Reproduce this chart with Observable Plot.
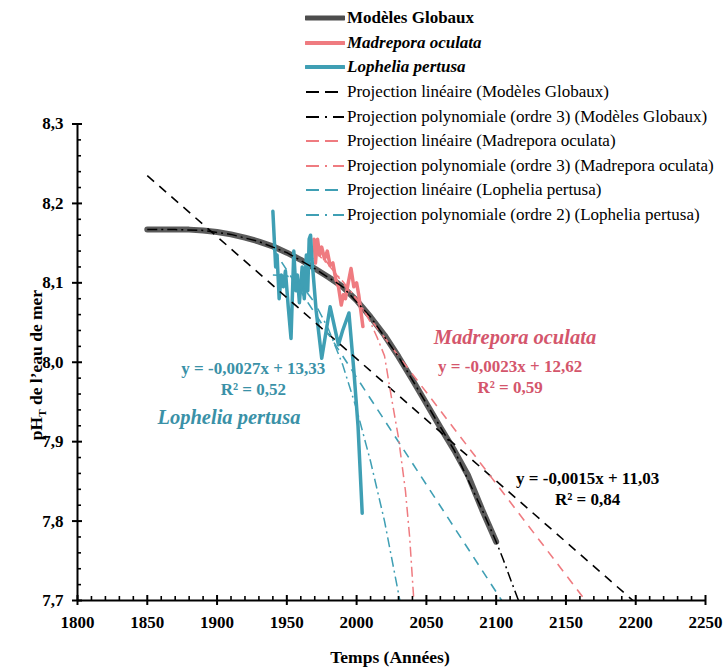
<!DOCTYPE html>
<html><head><meta charset="utf-8">
<script src="https://cdn.jsdelivr.net/npm/d3@7"></script>
<script src="https://cdn.jsdelivr.net/npm/@observablehq/plot@0.6"></script>
<style>
html,body{margin:0;background:#fff;overflow:hidden;}
#wrap{position:relative;width:723px;height:669px;overflow:hidden;font-family:"Liberation Serif","Times New Roman",serif;}
#legend{position:absolute;left:305px;top:6px;}
.row{display:flex;align-items:center;height:24.6px;font-size:17px;color:#000;white-space:nowrap;}
.row svg{width:40px;height:12px;margin-right:2px;flex:none;}
</style></head>
<body><div id="wrap"><div id="legend"></div></div>
<script>
// ---- data ----
const modelYears = [1850,1860,1870,1880,1890,1900,1910,1920,1930,1940,1950,1960,1970,1980,1990,2000,2010,2020,2030,2040,2050,2060,2070,2080,2090,2100];
const modelPH    = [8.167,8.167,8.167,8.167,8.166,8.164,8.161,8.157,8.152,8.146,8.138,8.129,8.118,8.107,8.095,8.078,8.057,8.034,8.007,7.978,7.948,7.918,7.889,7.857,7.814,7.774];

const modelPolyYears = [1850,1870,1890,1910,1930,1950,1970,1990,2010,2030,2050,2070,2090,2100,2105,2110,2116];
const modelPolyPH    = [8.167,8.167,8.166,8.161,8.152,8.138,8.118,8.095,8.057,8.007,7.948,7.889,7.814,7.774,7.752,7.728,7.70];

const madreporaYears = [1969.5,1970.5,1972,1973.5,1975,1977,1979,1981,1983,1985,1987,1989,1990.5,1992,1994,1996,1998,2000,2001.5,2003,2004.5];
const madreporaPH    = [8.155,8.125,8.155,8.135,8.145,8.13,8.14,8.122,8.125,8.105,8.095,8.072,8.085,8.08,8.10,8.118,8.095,8.10,8.085,8.065,8.045];

const lopheliaYears = [1940,1942,1943,1944.5,1946,1947.5,1949,1951,1953,1955,1956.5,1957.5,1959,1961,1962.5,1964,1965,1966,1967,1968,1971,1975,1981,1987,1990,1994.5,1998,2001,2004];
const lopheliaPH    = [8.19,8.12,8.135,8.08,8.11,8.095,8.115,8.07,8.03,8.14,8.09,8.11,8.075,8.12,8.08,8.135,8.09,8.155,8.16,8.13,8.065,8.005,8.07,8.022,8.04,8.062,7.99,7.92,7.81];

const modelLinYears = [1850, 2198];
const modelLinPH    = [8.235, 7.70];
const madreporaLinYears = [1970, 2164];
const madreporaLinPH    = [8.146, 7.70];
const lopheliaLinYears  = [1940, 2104];
const lopheliaLinPH     = [8.143, 7.70];

const madreporaPolyYears = [1970,1980,1990,2000,2005,2010,2015,2020,2025,2030,2035,2038,2041];
const madreporaPolyPH    = [8.14,8.122,8.102,8.08,8.066,8.05,8.03,8.008,7.955,7.905,7.838,7.78,7.70];
const lopheliaPolyYears  = [1940,1950,1960,1970,1980,1990,2000,2010,2020,2031];
const lopheliaPolyPH     = [8.11,8.109,8.098,8.075,8.041,7.997,7.941,7.875,7.80,7.70];

const xTicks = [1800,1850,1900,1950,2000,2050,2100,2150,2200,2250];
const yTicks = [7.7,7.8,7.9,8.0,8.1,8.2,8.3];

const legendLabels = ["Modèles Globaux","Madrepora oculata","Lophelia pertusa",
  "Projection linéaire (Modèles Globaux)","Projection polynomiale (ordre 3) (Modèles Globaux)",
  "Projection linéaire (Madrepora oculata)","Projection polynomiale (ordre 3) (Madrepora oculata)",
  "Projection linéaire (Lophelia pertusa)","Projection polynomiale (ordre 2) (Lophelia pertusa)"];

// ---- styles ----
const GRAY = "#4d4d4d", RED = "#ef7b80", TEAL = "#3f9fb4", RED_TXT = "#d4566c", TEAL_TXT = "#3a91a7";
const DASH = "9,7", DASHDOT = "10,4,2,4";

const rows = (xs, ys) => xs.map((x, i) => ({x, y: ys[i]}));
const xMinor = d3.range(1800, 2251, 10).filter(d => d % 50 !== 0);
const yMinor = d3.range(7.7, 8.3001, 0.02).map(d => +d.toFixed(2)).filter(d => Math.abs(d * 10 - Math.round(d * 10)) > 1e-6);

const lineOpts = (stroke, w, dash) => ({x: "x", y: "y", stroke, strokeWidth: w, strokeDasharray: dash, clip: true, strokeLinejoin: "round", strokeLinecap: dash ? "butt" : "round"});

const chart = Plot.plot({
  width: 723, height: 669,
  marginLeft: 77, marginRight: 18, marginTop: 123.5, marginBottom: 69,
  x: {domain: [1800, 2250]},
  y: {domain: [7.7, 8.3]},
  style: {fontFamily: "'Liberation Serif','Times New Roman',serif", fontSize: "17px", fontWeight: "bold", color: "#000", background: "#fff", overflow: "visible"},
  marks: [
    Plot.line(rows(modelYears, modelPH), {...lineOpts(GRAY, 6), strokeOpacity: 0.92}),
    Plot.line(rows(madreporaYears, madreporaPH), lineOpts(RED, 3.5)),
    Plot.line(rows(lopheliaYears, lopheliaPH), lineOpts(TEAL, 3.5)),
    Plot.line(rows(modelLinYears, modelLinPH), lineOpts("#000", 1.6, DASH)),
    Plot.line(rows(madreporaLinYears, madreporaLinPH), lineOpts(RED, 1.6, DASH)),
    Plot.line(rows(lopheliaLinYears, lopheliaLinPH), lineOpts(TEAL, 1.6, DASH)),
    Plot.line(rows(modelPolyYears, modelPolyPH), lineOpts("#000", 1.5, DASHDOT)),
    Plot.line(rows(madreporaPolyYears, madreporaPolyPH), lineOpts(RED, 1.5, DASHDOT)),
    Plot.line(rows(lopheliaPolyYears, lopheliaPolyPH), lineOpts(TEAL, 1.5, DASHDOT)),
    // axes
    Plot.ruleX([1800], {stroke: "#000", strokeWidth: 2}),
    Plot.ruleY([7.7], {stroke: "#000", strokeWidth: 2}),
    Plot.axisX(xTicks, {tickSize: 5, tickPadding: 10, tickFormat: d => String(d), label: null, strokeWidth: 2, fontSize: 17}),
    Plot.axisX(xTicks, {tickSize: -5, tickFormat: () => "", label: null, strokeWidth: 2}),
    Plot.axisX(xMinor, {tickSize: -4, tickFormat: () => "", label: null, strokeWidth: 1.6}),
    Plot.axisY(yTicks, {tickSize: 5, tickPadding: 9, tickFormat: d => d.toFixed(1).replace(".", ","), label: null, strokeWidth: 2, fontSize: 17}),
    Plot.axisY(yTicks, {tickSize: -5, tickFormat: () => "", label: null, strokeWidth: 2}),
    Plot.axisY(yMinor, {tickSize: -4, tickFormat: () => "", label: null, strokeWidth: 1.6}),
    // annotations
    Plot.text(["y = -0,0027x + 13,33"], {x: 1926, y: 7.992, text: d => d, fill: TEAL_TXT, fontSize: 17}),
    Plot.text(["R² = 0,52"], {x: 1926, y: 7.966, text: d => d, fill: TEAL_TXT, fontSize: 17}),
    Plot.text(["Lophelia pertusa"], {x: 1908.5, y: 7.93, text: d => d, fill: TEAL_TXT, fontSize: 20.5, fontStyle: "italic"}),
    Plot.text(["Madrepora oculata"], {x: 2113.5, y: 8.031, text: d => d, fill: RED_TXT, fontSize: 20.5, fontStyle: "italic"}),
    Plot.text(["y = -0,0023x + 12,62"], {x: 2110, y: 7.994, text: d => d, fill: RED_TXT, fontSize: 17}),
    Plot.text(["R² = 0,59"], {x: 2110, y: 7.968, text: d => d, fill: RED_TXT, fontSize: 17}),
    Plot.text(["y = -0,0015x + 11,03"], {x: 2165.5, y: 7.853, text: d => d, fill: "#000", fontSize: 17}),
    Plot.text(["R² = 0,84"], {x: 2165.5, y: 7.827, text: d => d, fill: "#000", fontSize: 17})
  ]
});

const wrap = document.getElementById("wrap");
wrap.insertBefore(chart, wrap.firstChild);
const svg = d3.select(chart.tagName.toLowerCase() === "svg" ? chart : chart.querySelector("svg"));

// y title with subscript
const yt = svg.append("text")
  .attr("transform", "translate(42,365) rotate(-90)")
  .attr("text-anchor", "middle").attr("font-size", 17.5).attr("font-weight", "bold").attr("fill", "#000");
yt.append("tspan").text("pH");
yt.append("tspan").attr("dy", 4).attr("font-size", 11).text("T");
yt.append("tspan").attr("dy", -4).text(" de l’eau de mer");

// x title
svg.append("text").attr("x", 390).attr("y", 663).attr("text-anchor", "middle")
  .attr("font-size", 17.5).attr("font-weight", "bold").attr("fill", "#000").text("Temps (Années)");

// legend
const legendStyles = [
  {stroke: GRAY, w: 5, dash: null, weight: "bold", style: "normal"},
  {stroke: RED, w: 4, dash: null, weight: "bold", style: "italic"},
  {stroke: TEAL, w: 4, dash: null, weight: "bold", style: "italic"},
  {stroke: "#000", w: 1.8, dash: "13,6"},
  {stroke: "#000", w: 1.8, dash: "13,6,2,6"},
  {stroke: RED, w: 1.8, dash: "13,6"},
  {stroke: RED, w: 1.8, dash: "13,6,2,6"},
  {stroke: TEAL, w: 1.8, dash: "13,6"},
  {stroke: TEAL, w: 1.8, dash: "13,6,2,6"}
];
const legend = d3.select("#legend");
legendLabels.forEach((lab, i) => {
  const s = legendStyles[i];
  const row = legend.append("div").attr("class", "row");
  const sw = row.append("svg").attr("viewBox", "0 0 40 12");
  sw.append("line").attr("x1", 1).attr("x2", 39).attr("y1", 6).attr("y2", 6)
    .attr("stroke", s.stroke).attr("stroke-width", s.w)
    .attr("stroke-dasharray", s.dash).attr("stroke-linecap", s.dash ? "butt" : "round");
  row.append("span").text(lab)
    .style("font-weight", s.weight || "normal").style("font-style", s.style || "normal");
});
</script>
</body></html>
